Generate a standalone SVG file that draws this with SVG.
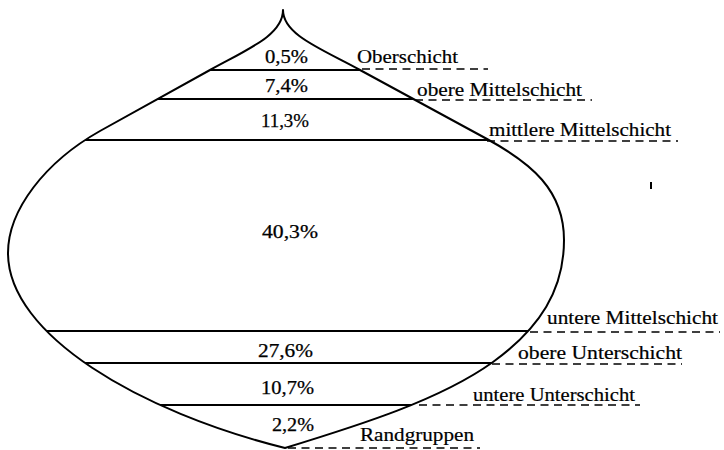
<svg xmlns="http://www.w3.org/2000/svg" width="724" height="450" viewBox="0 0 724 450">
<style>
.outline{fill:none;stroke:#000;stroke-width:2;stroke-linejoin:round}
.sep{stroke:#000;stroke-width:2.2}
.dash{stroke:#000;stroke-width:1.4;stroke-dasharray:8 5.5;fill:none}
.pct{font-family:"Liberation Serif","Times New Roman",serif;font-size:18px;fill:#000;stroke:#000;stroke-width:0.25}
.lbl{font-family:"Liberation Serif","Times New Roman",serif;font-size:18px;fill:#000;stroke:#000;stroke-width:0.2}
</style>
<defs>
<path id="shape" d="M283,10 C283,35 248,49 210,70 L100,131 C45,162 8,210 8,253 C8,335 140,412 285,448 C360,425 440,400 493,362 C540,328 564,290 564,240 C564,190 531,163 487,139 L360,70 C322,49 283,35 283,10 Z"/>
<clipPath id="inside"><use href="#shape"/></clipPath>
</defs>
<rect width="724" height="450" fill="#fff"/>
<g id="body">
<use href="#shape" class="outline"/>
</g>
<g id="layers" clip-path="url(#inside)">
<line class="sep" x1="0" y1="70" x2="724" y2="70"/>
<line class="sep" x1="0" y1="99" x2="724" y2="99"/>
<line class="sep" x1="0" y1="140" x2="724" y2="140"/>
<line class="sep" x1="0" y1="331" x2="724" y2="331"/>
<line class="sep" x1="0" y1="363" x2="724" y2="363"/>
<line class="sep" x1="0" y1="405" x2="724" y2="405"/>
</g>
<g id="connectors">
<line class="dash" x1="362" y1="69" x2="488" y2="69"/>
<line class="dash" x1="415" y1="100" x2="592" y2="100"/>
<line class="dash" x1="487" y1="141" x2="678" y2="141"/>
<line class="dash" x1="530" y1="332" x2="720" y2="332"/>
<line class="dash" x1="492" y1="364" x2="682" y2="364"/>
<line class="dash" x1="419" y1="405" x2="640" y2="405"/>
<line class="dash" x1="288" y1="448" x2="480" y2="448"/>
</g>
<g id="percentages">
<text class="pct" x="265" y="63" textLength="43" lengthAdjust="spacingAndGlyphs">0,5%</text>
<text class="pct" x="265" y="92" textLength="43" lengthAdjust="spacingAndGlyphs">7,4%</text>
<text class="pct" x="261" y="127" textLength="48" lengthAdjust="spacingAndGlyphs">11,3%</text>
<text class="pct" x="262" y="238" textLength="56" lengthAdjust="spacingAndGlyphs">40,3%</text>
<text class="pct" x="258" y="357" textLength="55" lengthAdjust="spacingAndGlyphs">27,6%</text>
<text class="pct" x="261" y="394" textLength="53" lengthAdjust="spacingAndGlyphs">10,7%</text>
<text class="pct" x="272" y="431" textLength="42" lengthAdjust="spacingAndGlyphs">2,2%</text>
</g>
<g id="n-oberschicht"><text class="lbl" x="357" y="63" textLength="101" lengthAdjust="spacingAndGlyphs">Oberschicht</text></g>
<g id="n-obere-mittelschicht"><text class="lbl" x="417" y="96" textLength="165" lengthAdjust="spacingAndGlyphs">obere Mittelschicht</text></g>
<g id="n-mittlere-mittelschicht"><text class="lbl" x="489" y="136" textLength="182" lengthAdjust="spacingAndGlyphs">mittlere Mittelschicht</text></g>
<g id="n-untere-mittelschicht"><text class="lbl" x="547" y="324" textLength="171" lengthAdjust="spacingAndGlyphs">untere Mittelschicht</text></g>
<g id="n-obere-unterschicht"><text class="lbl" x="518" y="359" textLength="164" lengthAdjust="spacingAndGlyphs">obere Unterschicht</text></g>
<g id="n-untere-unterschicht"><text class="lbl" x="473" y="401" textLength="162" lengthAdjust="spacingAndGlyphs">untere Unterschicht</text></g>
<g id="n-randgruppen"><text class="lbl" x="360" y="441" textLength="114" lengthAdjust="spacingAndGlyphs">Randgruppen</text></g>
<rect x="650" y="182" width="2" height="7" fill="#000"/>
</svg>
